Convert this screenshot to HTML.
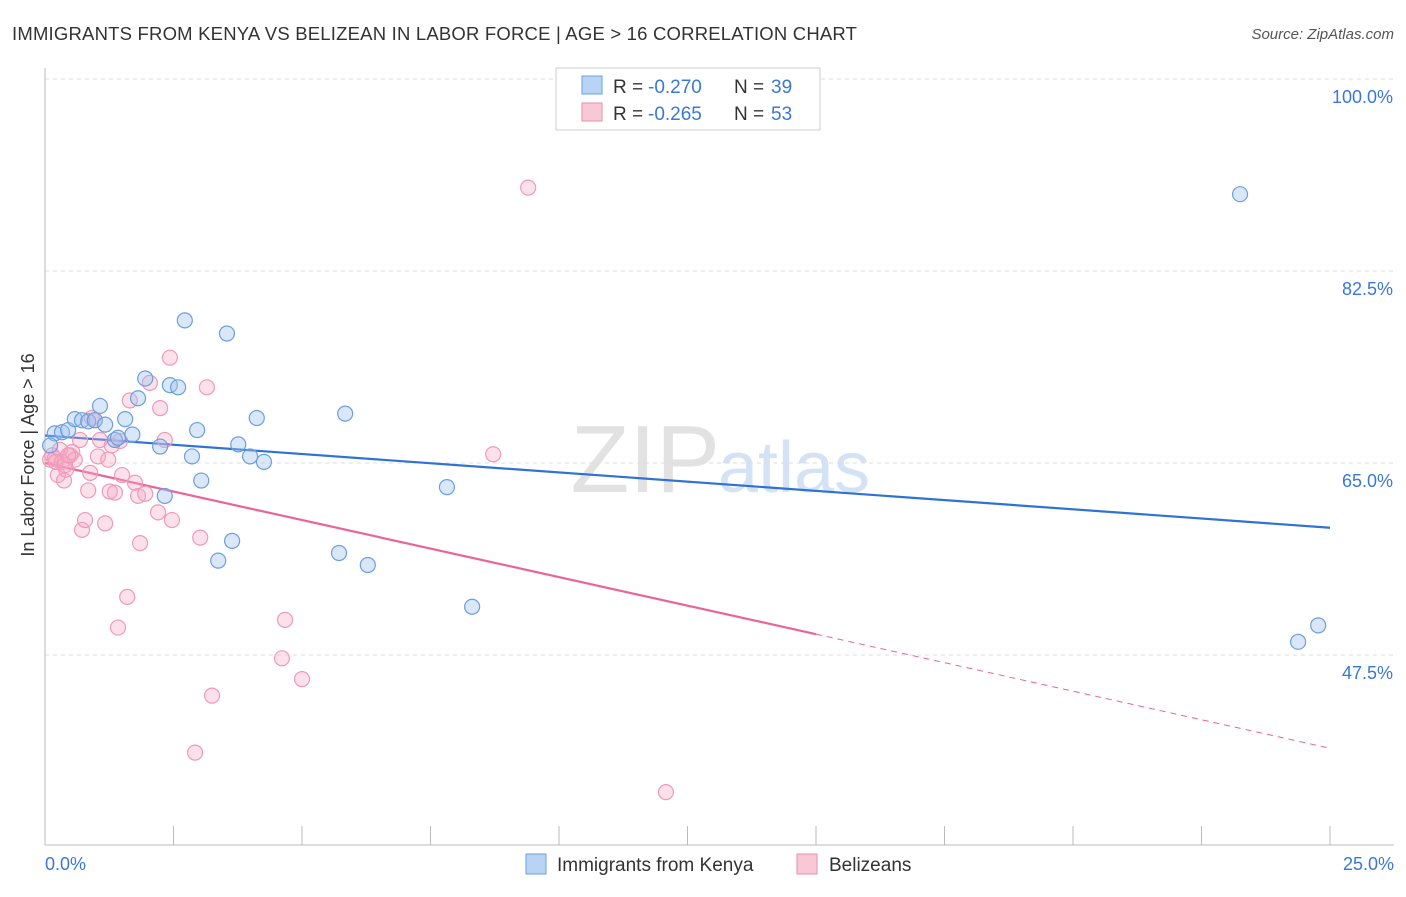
<!DOCTYPE html>
<html><head><meta charset="utf-8"><style>
body{margin:0;background:#fff;font-family:"Liberation Sans",sans-serif;}
svg text{font-family:"Liberation Sans",sans-serif;}
</style></head><body>
<svg id="chart" width="1406" height="892">
<text x="12" y="40" font-size="18.5" letter-spacing="0.2" fill="#333">IMMIGRANTS FROM KENYA VS BELIZEAN IN LABOR FORCE | AGE &gt; 16 CORRELATION CHART</text>
<text x="1394" y="39" font-size="15" fill="#555" font-style="italic" text-anchor="end">Source: ZipAtlas.com</text>
<text x="720" y="492" font-size="96" fill="#e2e2e2" text-anchor="end" font-family="Liberation Serif">ZIP</text>
<text x="718" y="492" font-size="72" fill="#d3e3f5">atlas</text>
<g id="grid"></g><g id="axes"></g><g id="lines"></g><g id="pts"></g>
<text transform="translate(34,455) rotate(-90)" font-size="18" fill="#333" text-anchor="middle">In Labor Force | Age &gt; 16</text>
<text x="45" y="870" font-size="18" fill="#3a78d8">0.0%</text>
<text x="1394" y="870" font-size="18" fill="#3a78d8" text-anchor="end">25.0%</text>
<g>
<rect x="556" y="68" width="264" height="62" fill="#fff" stroke="#ccc"/>
<rect x="582" y="76" width="20" height="18" fill="#b9d3f5" stroke="#6a9fe0"/>
<rect x="582" y="103" width="20" height="18" fill="#f9c8d7" stroke="#ea8fae"/>
<text x="613" y="93" font-size="19" fill="#333">R =</text>
<text x="648" y="93" font-size="19" fill="#3a78d8">-0.270</text>
<text x="734" y="93" font-size="19" fill="#333">N =</text>
<text x="771" y="93" font-size="19" fill="#3a78d8">39</text>
<text x="613" y="120" font-size="19" fill="#333">R =</text>
<text x="648" y="120" font-size="19" fill="#3a78d8">-0.265</text>
<text x="734" y="120" font-size="19" fill="#333">N =</text>
<text x="771" y="120" font-size="19" fill="#3a78d8">53</text>
</g>
<g>
<rect x="526" y="854" width="20" height="20" fill="#b9d3f5" stroke="#6a9fe0"/>
<text x="557" y="871" font-size="19" fill="#333">Immigrants from Kenya</text>
<rect x="797" y="854" width="20" height="20" fill="#f9c8d7" stroke="#ea8fae"/>
<text x="829" y="871" font-size="19" fill="#333">Belizeans</text>
</g>
</svg>
<script>
const yTicks=[100,82.5,65,47.5];
const yTickLabels=["100.0%","82.5%","65.0%","47.5%"];
const kenyaX=[0.19,0.33,0.45,0.58,0.72,0.84,0.97,1.07,1.17,1.36,1.42,1.56,1.70,1.81,1.95,2.24,2.33,2.43,2.59,2.72,2.86,2.96,3.04,3.37,3.54,3.64,3.76,3.99,4.12,4.26,5.72,5.84,6.28,7.82,8.31,23.25,24.38,24.77,0.10];
const kenyaY=[67.7,67.8,68.0,69.0,68.9,68.8,68.9,70.2,68.5,67.1,67.3,69.0,67.6,70.9,72.7,66.5,62.0,72.1,71.9,78.0,65.6,68.0,63.4,56.1,76.8,57.9,66.7,65.6,69.1,65.1,56.8,69.5,55.7,62.8,51.9,89.5,48.7,50.2,66.6];
const belizeX=[0.10,0.14,0.19,0.25,0.29,0.33,0.37,0.41,0.49,0.53,0.58,0.68,0.72,0.78,0.84,0.88,0.97,1.03,1.07,1.17,1.23,1.26,1.30,1.36,1.42,1.50,1.60,1.65,1.75,1.81,1.85,1.95,2.04,2.20,2.24,2.33,2.43,2.47,3.02,3.15,3.25,2.92,4.61,4.67,5.00,8.72,9.40,12.08,0.21,0.39,0.91,1.46,0.45];
const belizeY=[65.3,65.7,65.4,63.9,66.2,65.1,63.4,64.4,65.7,66.0,65.3,67.1,58.9,59.8,62.5,64.1,68.9,65.6,67.1,59.5,65.3,62.4,66.6,62.3,50.0,63.9,52.8,70.7,63.2,62.0,57.7,62.2,72.3,60.5,70.0,67.1,74.6,59.8,58.2,71.9,43.8,38.6,47.2,50.7,45.3,65.8,90.1,35.0,65.1,64.8,69.1,67.0,65.7];
const kenyaTrend=[67.5,59.1];
const belizeTrend=[65.0,39.0];
const belizeSolidEnd=15;

const X0=45,X1=1330,Y100=79,PXPER=192/17.5;
const sx=v=>X0+(X1-X0)*v/25;
const sy=v=>Y100+(100-v)*PXPER;
const NS="http://www.w3.org/2000/svg";
function mk(tag,attrs,parent){const e=document.createElementNS(NS,tag);for(const k in attrs)e.setAttribute(k,attrs[k]);document.getElementById(parent).appendChild(e);return e;}
yTicks.forEach((t,i)=>{
 const l=mk('line',{x1:45,x2:1394,y1:sy(t),y2:sy(t),stroke:'#ddd','stroke-dasharray':'4,4'},'grid');
 
 
 const tx=mk('text',{x:1393,y:sy(t)+24,'font-size':18,fill:'#3a78d8','text-anchor':'end'},'grid');
 tx.textContent=yTickLabels[i];
 
 
});
const ax=mk('line',{x1:45,x2:45,y1:68,y2:845,stroke:'#bbb'},'axes');


const bx=mk('line',{x1:45,x2:1394,y1:845,y2:845,stroke:'#bbb'},'axes');


for(let i=0;i<=10;i++){const t=mk('line',{x1:sx(i*2.5),x2:sx(i*2.5),y1:826,y2:845,stroke:'#bbb'},'axes');
 
 }
const kl=mk('line',{x1:sx(0),y1:sy(kenyaTrend[0]),x2:sx(25),y2:sy(kenyaTrend[1]),stroke:'#2f72d6','stroke-width':2.2},'lines');


const by=v=>belizeTrend[0]+(belizeTrend[1]-belizeTrend[0])*v/25;
const bl=mk('line',{x1:sx(0),y1:sy(by(0)),x2:sx(belizeSolidEnd),y2:sy(by(belizeSolidEnd)),stroke:'#e8649a','stroke-width':2.2},'lines');


const bd=mk('line',{x1:sx(belizeSolidEnd),y1:sy(by(belizeSolidEnd)),x2:sx(25),y2:sy(by(25)),stroke:'#e8649a','stroke-width':1,'stroke-dasharray':'6,5'},'lines');


belizeX.forEach((x,i)=>{const c=mk('circle',{cx:sx(x),cy:sy(belizeY[i]),r:7.5,fill:'rgba(246,170,195,0.35)',stroke:'#ee9ab8','stroke-width':1.2},'pts');
 
 });
kenyaX.forEach((x,i)=>{const c=mk('circle',{cx:sx(x),cy:sy(kenyaY[i]),r:7.5,fill:'rgba(160,196,240,0.4)',stroke:'#6a9fe0','stroke-width':1.2},'pts');
 
 });
</script>
</body></html>
